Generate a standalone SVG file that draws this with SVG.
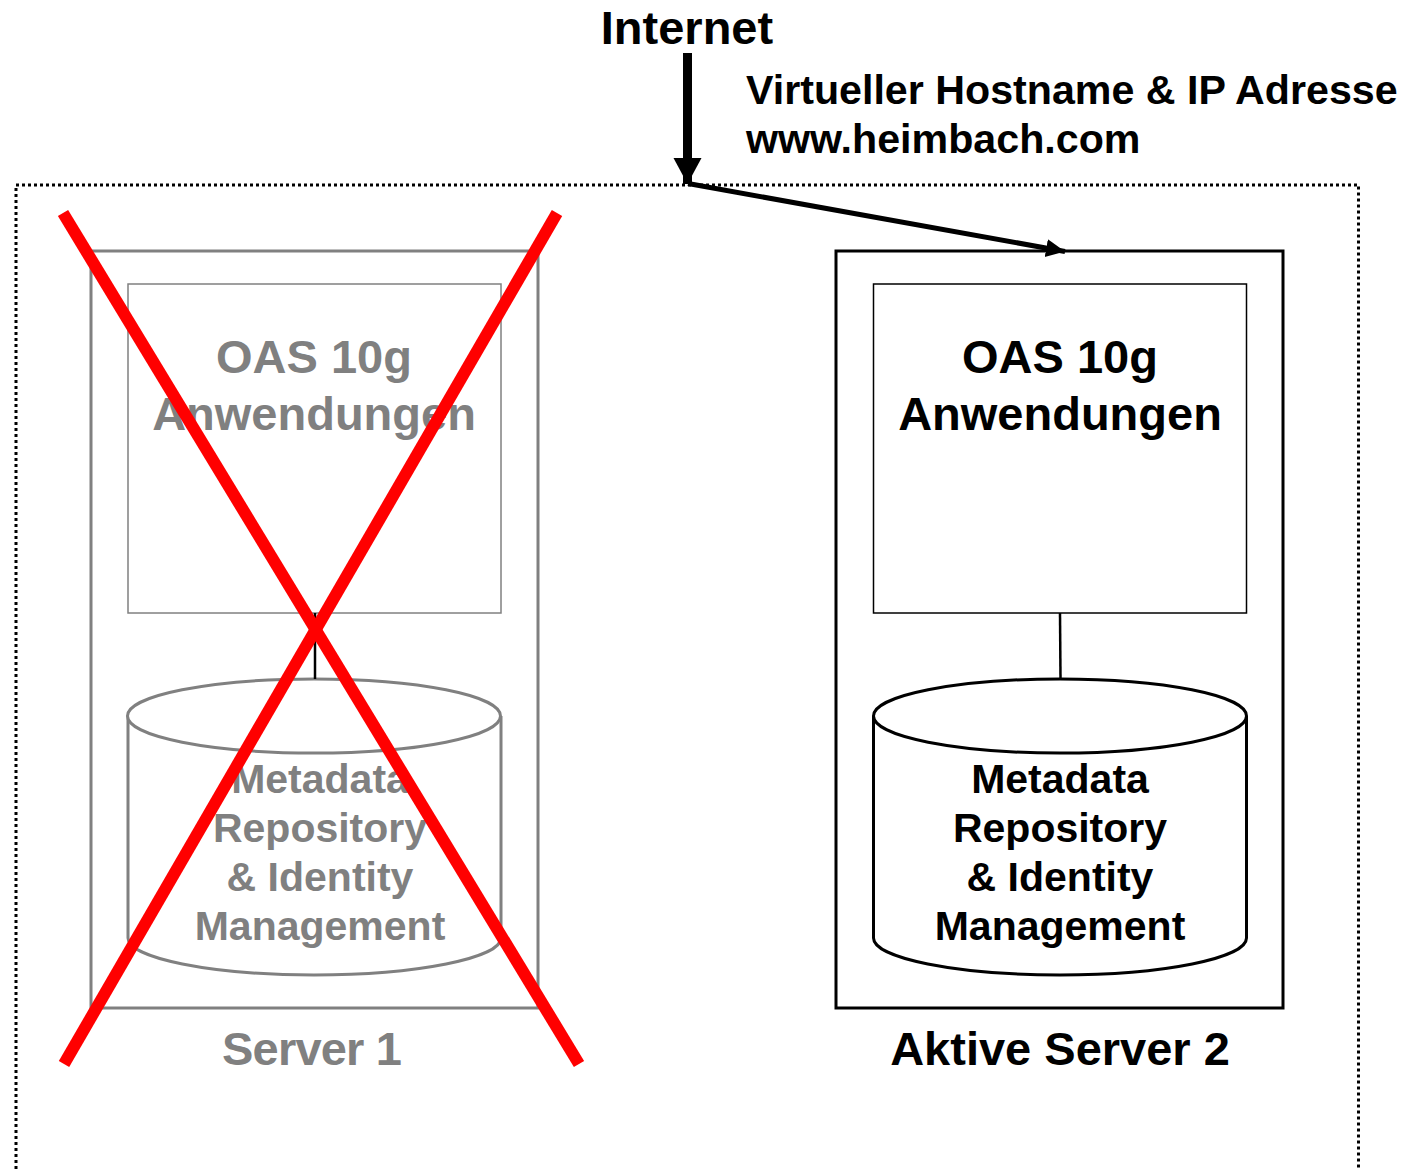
<svg xmlns="http://www.w3.org/2000/svg" width="1404" height="1169" viewBox="0 0 1404 1169">
<style>
text{font-family:"Liberation Sans",Arial,sans-serif;font-weight:bold;text-anchor:middle}
.g{fill:#808080}.k{fill:#000}
.t48{font-size:47px}.t42{font-size:41px}
.l{text-anchor:start;font-size:41.200px}
</style>
<defs>
<marker id="a" markerUnits="userSpaceOnUse" markerWidth="28" markerHeight="30" refX="26" refY="14" orient="auto"><path d="M0 0L26 14L0 28Z" fill="#000"/></marker>
<marker id="b" markerUnits="userSpaceOnUse" markerWidth="22" markerHeight="20" refX="19" refY="9" orient="auto"><path d="M0 0L19 9L0 18Z" fill="#000"/></marker>
</defs>
<rect width="1404" height="1169" fill="#fff"/>
<path id="outer" d="M16 1169V185H1358.500V1169" fill="none" stroke="#000" stroke-width="3" stroke-dasharray="3 3"/>
<g id="server1">
<rect x="91" y="251" width="447" height="757" fill="none" stroke="#808080" stroke-width="3"/>
<text class="g t48" x="312" y="1065" textLength="180" lengthAdjust="spacing">Server 1</text>
</g>
<g id="oas1">
<rect x="128" y="284" width="373" height="329" fill="#fff" stroke="#808080" stroke-width="1.500"/>
<text class="g t48" x="314" y="373">OAS 10g</text>
<text class="g t48" x="314" y="430">Anwendungen</text>
</g>
<g id="db1">
<path d="M128 716V938C128 958 211 975 314 975S501 958 501 938V716" fill="#fff" stroke="#808080" stroke-width="3"/>
<ellipse cx="314" cy="716" rx="186.500" ry="37" fill="#fff" stroke="#808080" stroke-width="3"/>
<text class="g t42" x="320" y="793">Metadata</text>
<text class="g t42" x="320" y="842">Repository</text>
<text class="g t42" x="320" y="891">&amp; Identity</text>
<text class="g t42" x="320" y="940">Management</text>
</g>
<g id="server2">
<rect x="836" y="251" width="447" height="757" fill="none" stroke="#000" stroke-width="3"/>
<text class="k t48" x="1060" y="1065">Aktive Server 2</text>
</g>
<g id="oas2">
<rect x="873.500" y="284" width="373" height="329" fill="#fff" stroke="#000" stroke-width="1.500"/>
<text class="k t48" x="1060" y="373">OAS 10g</text>
<text class="k t48" x="1060" y="430">Anwendungen</text>
</g>
<g id="db2">
<path d="M873.500 716V938C873.500 958 956 975 1060 975S1246.500 958 1246.500 938V716" fill="#fff" stroke="#000" stroke-width="3"/>
<ellipse cx="1060" cy="716" rx="186.500" ry="37" fill="#fff" stroke="#000" stroke-width="3"/>
<text class="k t42" x="1060" y="793">Metadata</text>
<text class="k t42" x="1060" y="842">Repository</text>
<text class="k t42" x="1060" y="891">&amp; Identity</text>
<text class="k t42" x="1060" y="940">Management</text>
</g>
<g id="connectors" fill="none" stroke="#000">
<path d="M315 613V679" stroke-width="2.500"/>
<path d="M1060 613L1060.500 679" stroke-width="2.500"/>
<path d="M687.500 53V184" stroke-width="9" marker-end="url(#a)"/>
<path d="M688 183.500L1065 251.500" stroke-width="5" marker-end="url(#b)"/>
</g>
<g id="internet"><text class="k t48" x="687" y="44">Internet</text></g>
<g id="vhost">
<text class="k l" x="746" y="104">Virtueller Hostname &amp; IP Adresse</text>
<text class="k l" x="746" y="153">www.heimbach.com</text>
</g>
<g id="cross" stroke="#ff0000" stroke-width="12" fill="none">
<path d="M63 213L579 1064"/>
<path d="M557 213L64 1064"/>
</g>
</svg>
